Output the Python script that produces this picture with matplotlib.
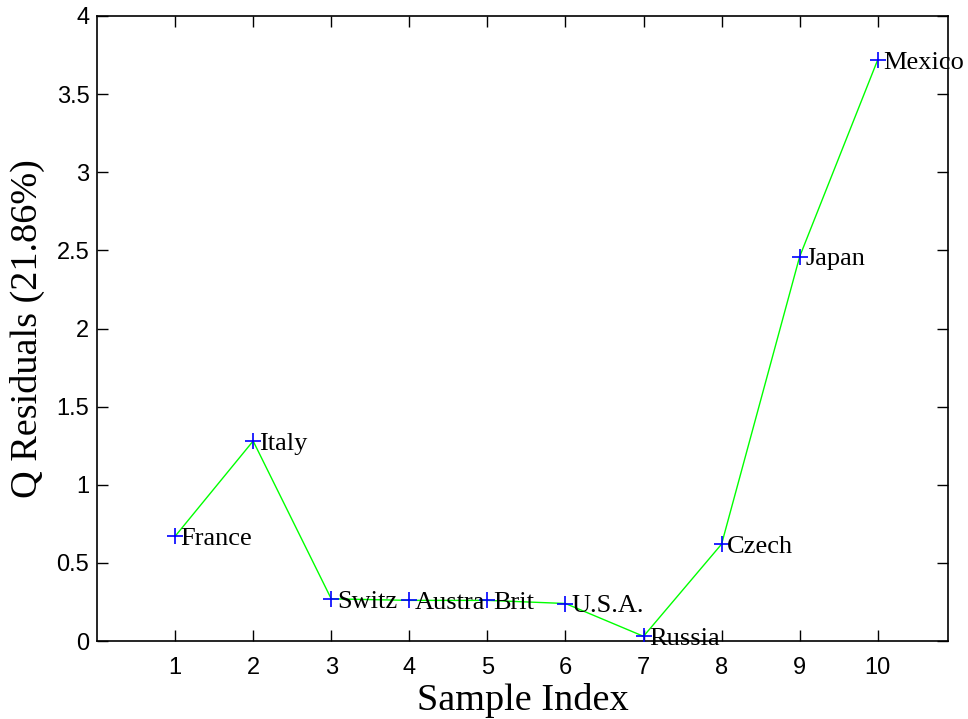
import matplotlib.pyplot as plt
import numpy as np
from matplotlib.ticker import FormatStrFormatter

samples = np.arange(1, 11)
q_resid = [0.67, 1.28, 0.27, 0.26, 0.26, 0.24, 0.03, 0.62, 2.46, 3.72]
names = ['France', 'Italy', 'Switz', 'Austra', 'Brit', 'U.S.A.',
         'Russia', 'Czech', 'Japan', 'Mexico']

fig = plt.figure(figsize=(9.68, 7.19), dpi=100)
ax = fig.add_axes([97 / 968, 78 / 719, 851 / 968, 625 / 719])

ax.plot(samples, q_resid, color='#00ff00', lw=1, zorder=2)
ax.plot(samples, q_resid, ls='none', marker='+', ms=12, mew=1.2,
        color='blue', zorder=3)

for x, y, s in zip(samples, q_resid, names):
    ax.annotate(s, (x, y), xytext=(4, -2), textcoords='offset points',
                family='Liberation Serif', fontsize=19,
                ha='left', va='center', annotation_clip=False)

ax.set_xlim(0, 10.9)
ax.set_ylim(0, 4)
ax.set_xticks(samples)
ax.set_yticks(np.arange(0, 4.01, 0.5))
ax.yaxis.set_major_formatter(FormatStrFormatter('%g'))

ax.tick_params(direction='in', top=True, right=True, length=8, width=1,
               labelsize=17)
ax.tick_params(axis='x', pad=11.5)
ax.tick_params(axis='y', pad=5.5)
for lab in ax.get_xticklabels() + ax.get_yticklabels():
    lab.set_family('Liberation Sans')
for sp in ax.spines.values():
    sp.set_linewidth(1.2)

ax.set_xlabel('Sample Index', family='Liberation Serif', fontsize=27.5,
              labelpad=3)
ax.set_ylabel('Q Residuals (21.86%)', family='Liberation Serif', fontsize=27.5,
              labelpad=8)

fig.savefig('out.png', dpi=100)
